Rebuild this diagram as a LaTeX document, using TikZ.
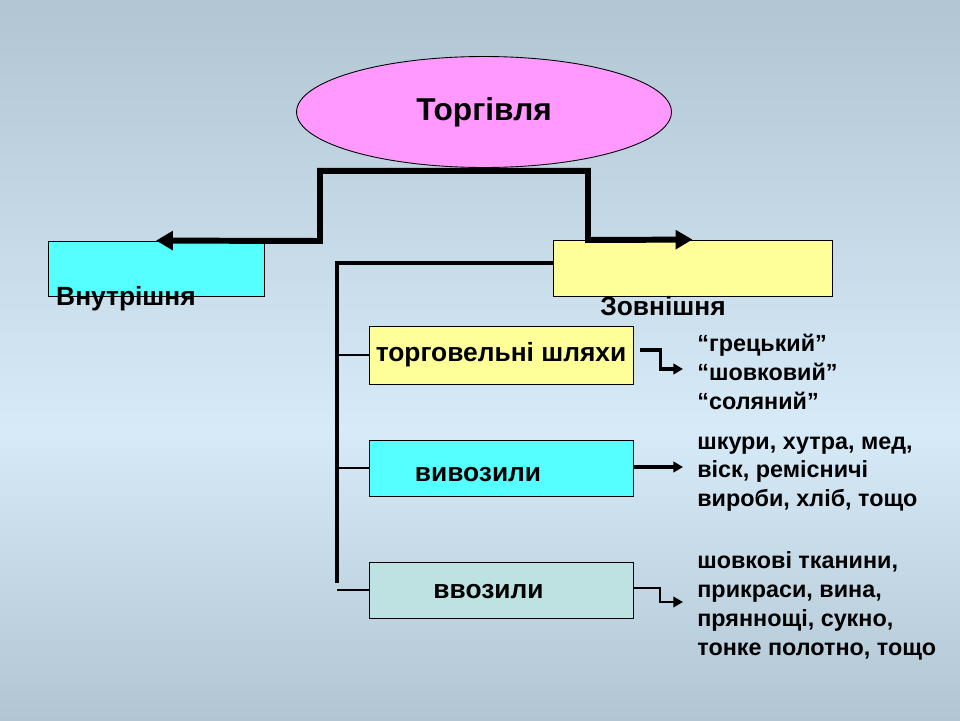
\documentclass[tikz,border=0pt]{standalone}
\usepackage{fontspec}
\setmainfont{Liberation Sans}
\usetikzlibrary{shapes.geometric,arrows.meta,positioning}

\definecolor{bgedge}{RGB}{178,197,211}
\definecolor{bgmid}{RGB}{214,234,247}
\definecolor{pinkfill}{RGB}{255,153,255}
\definecolor{cyanfill}{RGB}{85,255,255}
\definecolor{yellowfill}{RGB}{255,255,153}
\definecolor{tealfill}{RGB}{190,226,226}

\tikzset{
  box/.style={rectangle, draw, line width=0.5pt, minimum width=5.28cm, minimum height=1.12cm, inner sep=0pt},
  boxtext/.style={inner sep=0pt, font=\fontsize{15}{18}\selectfont\bfseries},
  note/.style={anchor=west, align=left, inner sep=0pt, font=\fontsize{13.3}{16.4}\selectfont\bfseries},
  bigarrow/.style={line width=3.4pt, -{Triangle[length=9.6pt,width=10.5pt]}},
  smallarrow/.style={line width=1.9pt, -{Triangle[length=5.5pt,width=6pt]}},
  thinarrow/.style={line width=1.2pt, -{Triangle[length=5.5pt,width=6pt]}},
  trunk/.style={line width=1.8pt},
  twig/.style={line width=0.6pt}
}

\begin{document}
\begin{tikzpicture}[x=0.02cm, y=-0.02cm]
    % background
    \shade[top color=bgedge, bottom color=bgmid] (0,0) rectangle (960,430);
    \shade[top color=bgmid, bottom color=bgedge] (0,430) rectangle (960,720);
    \useasboundingbox (0,0) rectangle (960,720);

    \node (torg) [ellipse, draw, line width=0.5pt, fill=pinkfill, minimum width=7.5cm, minimum height=2.22cm, inner sep=0pt,
        font=\fontsize{18}{21}\selectfont\bfseries] at (484,112) {Торгівля};

    \node (inner) [box, fill=cyanfill, minimum width=4.32cm, minimum height=1.1cm] at (156,268.5) {};
    \node (outer) [box, fill=yellowfill, minimum width=5.58cm] at (692.5,268) {};
    \node (innertext) [boxtext] at (126,299) {Внутрішня};
    \node (outertext) [boxtext] at (663,306) {Зовнішня};

    \draw [bigarrow] ([yshift=-0.06cm]torg.south) -| (320,241) -- (inner.north);
    \draw [bigarrow] ([yshift=-0.06cm]torg.south) -| (588,240) -- (outer.north);

    % second level
    \node (routes) [box, fill=yellowfill, minimum height=1.16cm, boxtext] at (501,355) {торговельні шляхи};
    \node (exported) [box, fill=cyanfill] at (501,468) {};
    \node (imported) [box, fill=tealfill] at (501,590) {};
    \node (exptext) [boxtext] at (478,475) {вивозили};
    \node (imptext) [boxtext] at (488.5,592) {ввозили};

    \coordinate (trunkfoot) at (337,583);
    \draw [trunk] ([yshift=0.1cm]outer.west) -| (trunkfoot);
    \draw [twig] (routes.west -| trunkfoot) -- (routes.west);
    \draw [twig] (exported.west -| trunkfoot) -- (exported.west);
    \draw [twig] (imported.west -| trunkfoot) -- (imported.west);

    % goods
    \node (roads) [note] at (697,372) {“грецький”\\“шовковий”\\“соляний”};
    \node (goodsout) [note] at (697,474) {шкури, хутра, мед,\\віск, ремісничі\\вироби, хліб, тощо};
    \node (goodsin) [note] at (697,606) {шовкові тканини,\\прикраси, вина,\\пряннощі, сукно,\\тонке полотно, тощо};

    \coordinate (roadsend) at (683,369);
    \coordinate (goodsoutend) at (683,467);
    \coordinate (goodsinend) at (683,602);
    \draw [smallarrow] ([xshift=0.14cm,yshift=0.1cm]routes.east) -- ++(20,0) |- (roadsend);
    \draw [smallarrow] (exported.east |- goodsoutend) -- (goodsoutend);
    \draw [thinarrow] ([yshift=0.04cm]imported.east) -- ++(27,0) |- (goodsinend);
\end{tikzpicture}
\end{document}
